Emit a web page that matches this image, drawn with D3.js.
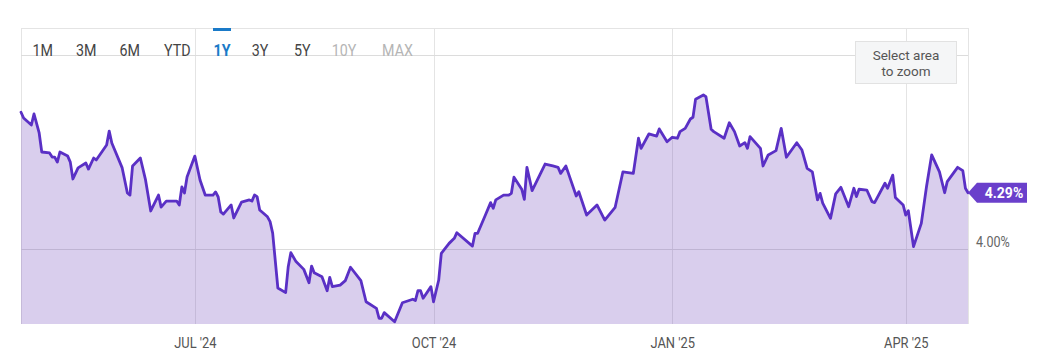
<!DOCTYPE html>
<html>
<head>
<meta charset="utf-8">
<script src="https://cdn.jsdelivr.net/npm/d3@7"></script>
<style>
  html, body { margin: 0; padding: 0; background: #fff; }
  svg { display: block; font-family: Roboto, "Noto Sans", sans-serif; }
</style>
</head>
<body>
<svg id="chart" width="1047" height="361"></svg>
<script>
// ---- data ----
const dates = [
"2024-04-25","2024-04-26","2024-04-29","2024-04-30","2024-05-02","2024-05-03","2024-05-06","2024-05-07","2024-05-08","2024-05-09",
"2024-05-10","2024-05-13","2024-05-14","2024-05-15","2024-05-17","2024-05-20","2024-05-21","2024-05-23","2024-05-24","2024-05-28",
"2024-05-29","2024-05-30","2024-06-03","2024-06-05","2024-06-06","2024-06-07","2024-06-10","2024-06-12","2024-06-14","2024-06-17",
"2024-06-18","2024-06-20","2024-06-24","2024-06-25","2024-06-26","2024-06-27","2024-06-28","2024-07-01","2024-07-03","2024-07-05",
"2024-07-08","2024-07-09","2024-07-10","2024-07-11","2024-07-12","2024-07-15","2024-07-16","2024-07-19","2024-07-22","2024-07-23",
"2024-07-24","2024-07-25","2024-07-26","2024-07-29","2024-07-30","2024-07-31","2024-08-02","2024-08-05","2024-08-06","2024-08-07",
"2024-08-09","2024-08-12","2024-08-14","2024-08-15","2024-08-16","2024-08-19","2024-08-21","2024-08-22","2024-08-23","2024-08-26",
"2024-08-28","2024-08-30","2024-09-03","2024-09-05","2024-09-09","2024-09-10","2024-09-11","2024-09-12","2024-09-16","2024-09-19",
"2024-09-23","2024-09-24","2024-09-25","2024-09-26","2024-09-27","2024-09-30","2024-10-01","2024-10-03","2024-10-04","2024-10-07",
"2024-10-09","2024-10-10","2024-10-16","2024-10-17","2024-10-18","2024-10-21","2024-10-23","2024-10-24","2024-10-25","2024-10-28",
"2024-10-30","2024-10-31","2024-11-01","2024-11-04","2024-11-05","2024-11-06","2024-11-08","2024-11-13","2024-11-16","2024-11-18",
"2024-11-19","2024-11-21","2024-11-22","2024-11-25","2024-11-26","2024-11-29","2024-12-03","2024-12-06","2024-12-10","2024-12-13",
"2024-12-17","2024-12-19","2024-12-20","2024-12-23","2024-12-26","2024-12-27","2024-12-30","2025-01-01","2025-01-03","2025-01-04",
"2025-01-06","2025-01-08","2025-01-09","2025-01-10","2025-01-13","2025-01-14","2025-01-16","2025-01-17","2025-01-21","2025-01-23",
"2025-01-25","2025-01-27","2025-01-29","2025-01-30","2025-01-31","2025-02-04","2025-02-05","2025-02-07","2025-02-10","2025-02-12",
"2025-02-14","2025-02-18","2025-02-20","2025-02-22","2025-02-24","2025-02-26","2025-02-27","2025-02-28","2025-03-03","2025-03-05",
"2025-03-07","2025-03-10","2025-03-12","2025-03-13","2025-03-14","2025-03-17","2025-03-19","2025-03-20","2025-03-24","2025-03-25",
"2025-03-27","2025-03-28","2025-03-31","2025-04-01","2025-04-02","2025-04-04","2025-04-07","2025-04-09","2025-04-11","2025-04-14",
"2025-04-16","2025-04-17","2025-04-21","2025-04-23","2025-04-24","2025-04-25"
];
const values = [
4.705,4.675,4.639,4.696,4.598,4.500,4.495,4.474,4.474,4.448,
4.500,4.479,4.448,4.361,4.418,4.443,4.412,4.469,4.459,4.536,
4.608,4.546,4.418,4.289,4.278,4.428,4.469,4.356,4.196,4.278,
4.216,4.247,4.247,4.227,4.320,4.289,4.371,4.479,4.356,4.278,
4.278,4.294,4.268,4.191,4.180,4.227,4.160,4.242,4.253,4.247,
4.278,4.270,4.201,4.166,4.141,4.082,3.799,3.775,3.909,3.981,
3.935,3.895,3.826,3.912,3.878,3.857,3.785,3.854,3.806,3.814,
3.837,3.906,3.837,3.728,3.694,3.643,3.643,3.672,3.625,3.723,
3.741,3.734,3.785,3.785,3.746,3.806,3.728,3.840,3.978,4.029,
4.055,4.084,4.015,4.081,4.081,4.175,4.239,4.210,4.253,4.278,
4.278,4.287,4.370,4.308,4.256,4.421,4.301,4.438,4.428,4.421,
4.390,4.428,4.390,4.273,4.295,4.175,4.227,4.149,4.215,4.398,
4.390,4.571,4.519,4.593,4.582,4.619,4.553,4.576,4.571,4.605,
4.622,4.670,4.679,4.772,4.794,4.785,4.617,4.605,4.571,4.651,
4.605,4.531,4.548,4.519,4.579,4.519,4.428,4.485,4.507,4.622,
4.473,4.548,4.510,4.416,4.398,4.253,4.287,4.236,4.158,4.284,
4.318,4.218,4.313,4.270,4.308,4.304,4.244,4.239,4.339,4.313,
4.381,4.266,4.227,4.175,4.197,4.012,4.132,4.321,4.485,4.398,
4.290,4.347,4.421,4.404,4.313,4.29
];
const xTickDates = ["2024-07-01","2024-10-01","2025-01-01","2025-04-01"];
const xTickLabels = ["JUL '24","OCT '24","JAN '25","APR '25"];
const yGridValues = [4.0, 5.0];
const yTickLabels = ["4.00%", ""];
const rangeButtons = ["1M","3M","6M","YTD","1Y","3Y","5Y","10Y","MAX"];
const activeButton = "1Y";
const disabledButtons = ["10Y","MAX"];
const lastLabel = "4.29%";
const zoomHint = ["Select area", "to zoom"];

// ---- drawing ----
const parse = d3.timeParse("%Y-%m-%d");
const data = dates.map((d, i) => ({ date: parse(d), value: values[i] }));

const svg = d3.select("#chart");
const pLeft = 21, pRight = 968, pTop = 28, pBottom = 324;

const x = d3.scaleTime()
  .domain([parse("2024-04-25"), parse("2025-04-25")])
  .range([pLeft, pRight]);
const y = d3.scaleLinear()
  .domain([3.6134, 5.1392])
  .range([pBottom, pTop]);

// vertical grid lines
const vLines = [pLeft].concat(xTickDates.map(d => x(parse(d)))).concat([pRight]);
svg.append("g").selectAll("line").data(vLines).join("line")
  .attr("x1", d => Math.round(d) + 0.5).attr("x2", d => Math.round(d) + 0.5)
  .attr("y1", pTop).attr("y2", pBottom)
  .attr("stroke", "#e4e4e4").attr("stroke-width", 1);

// top border
svg.append("line")
  .attr("x1", pLeft).attr("x2", pRight + 1)
  .attr("y1", pTop + 0.5).attr("y2", pTop + 0.5)
  .attr("stroke", "#e4e4e4");

// horizontal grid lines
svg.append("g").selectAll("line").data(yGridValues).join("line")
  .attr("x1", pLeft).attr("x2", pRight)
  .attr("y1", d => Math.round(y(d)) + 0.5).attr("y2", d => Math.round(y(d)) + 0.5)
  .attr("stroke", "#dcdcdc").attr("stroke-width", 1);

// area
const area = d3.area()
  .x(d => x(d.date)).y0(pBottom).y1(d => y(d.value));
svg.append("path").datum(data)
  .attr("d", area)
  .attr("fill", "rgb(103,58,183)")
  .attr("fill-opacity", 0.25);

// line
const line = d3.line().x(d => x(d.date)).y(d => y(d.value));
svg.append("path").datum(data)
  .attr("d", line)
  .attr("fill", "none")
  .attr("stroke", "#5a30c5")
  .attr("stroke-width", 2.8)
  .attr("stroke-linejoin", "round")
  .attr("stroke-linecap", "round");

// y tick labels
svg.append("g").selectAll("text").data(yGridValues).join("text")
  .attr("x", 0)
  .attr("y", 0)
  .attr("font-size", 14)
  .attr("fill", "#666")
  .attr("transform", d => `translate(976,${y(d) - 2}) scale(0.9,1)`)
  .text((d, i) => yTickLabels[i]);

// x axis
const xAxis = d3.axisBottom(x)
  .tickValues(xTickDates.map(parse))
  .tickFormat((d, i) => xTickLabels[i])
  .tickSize(0).tickPadding(0);
const gx = svg.append("g").attr("transform", `translate(0,${pBottom})`).call(xAxis);
gx.select(".domain").remove();
gx.selectAll("text")
  .attr("y", 24)
  .attr("dy", 0)
  .attr("font-family", "Roboto, sans-serif")
  .attr("font-size", 15)
  .attr("fill", "#555")
  .attr("transform", "scale(0.86,1)");

// last-value label
const last = data[data.length - 1];
const lx = x(last.date), ly = y(last.value);
const bx0 = lx + 9, bx1 = 1027, bh = 20;
svg.append("path")
  .attr("d", `M${lx},${ly} L${bx0},${ly - bh / 2} L${bx1},${ly - bh / 2} L${bx1},${ly + bh / 2} L${bx0},${ly + bh / 2} Z`)
  .attr("fill", "#6a3fcb");
svg.append("text")
  .attr("x", (bx0 + bx1) / 2 + 2)
  .attr("y", ly + 5)
  .attr("text-anchor", "middle")
  .attr("font-size", 14)
  .attr("font-weight", 700)
  .attr("fill", "#fff")
  .text(lastLabel);

// range buttons
const btnCenters = [42.8, 86.3, 129.7, 177.3, 222, 260, 302.3, 344, 397.5];
const bg = svg.append("g");
rangeButtons.forEach((b, i) => {
  const cx = btnCenters[i];
  const col = b === activeButton ? "#1a7ac8" : (disabledButtons.includes(b) ? "#b5b5b5" : "#444");
  bg.append("text")
    .attr("x", 0).attr("y", 0)
    .attr("text-anchor", "middle")
    .attr("font-size", 17)
    .attr("font-weight", b === activeButton ? 700 : 400)
    .attr("fill", col)
    .attr("transform", `translate(${cx},56) scale(0.84,1)`)
    .text(b);
  if (b === activeButton) {
    bg.append("rect").attr("x", cx - 9).attr("y", 28).attr("width", 18).attr("height", 3)
      .attr("fill", "#1a7ac8");
  }
});

// zoom hint box
svg.append("rect")
  .attr("x", 855.5).attr("y", 41.5).attr("width", 101).attr("height", 42)
  .attr("fill", "#f5f6f7").attr("stroke", "#e2e2e2");
zoomHint.forEach((t, i) => {
  svg.append("text")
    .attr("x", 906).attr("y", 60 + i * 16)
    .attr("text-anchor", "middle")
    .attr("font-size", 13.5)
    .attr("fill", "#555")
    .text(t);
});
</script>
</body>
</html>
